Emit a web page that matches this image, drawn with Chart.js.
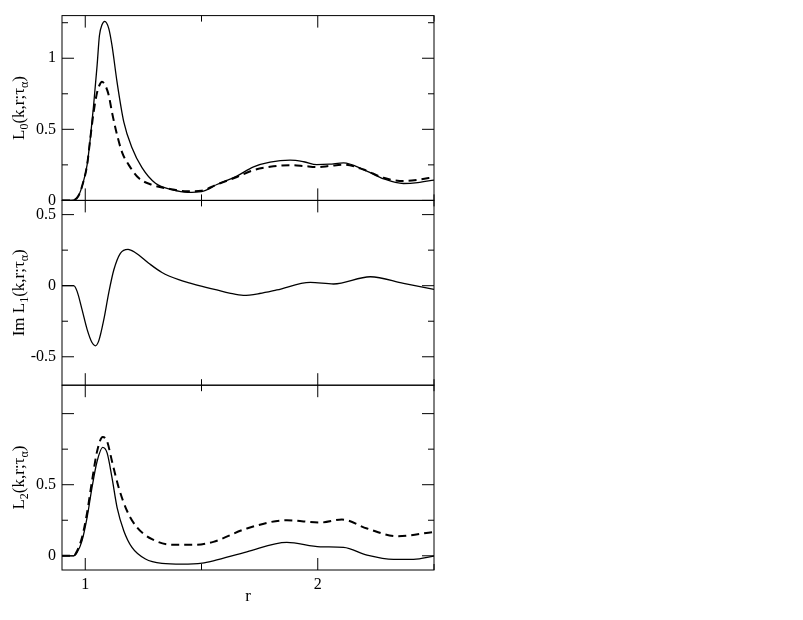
<!DOCTYPE html>
<html>
<head>
<meta charset="utf-8">
<script src="https://cdn.jsdelivr.net/npm/chart.js@4.4.1/dist/chart.umd.min.js"></script>
<style>
html,body{margin:0;padding:0;background:#fff;}
#wrap{position:relative;width:803px;height:620px;}
canvas{display:block;}
</style>
</head>
<body>
<div id="wrap"><canvas id="c" width="803" height="620"></canvas></div>
<script>
// ---------- data ----------
// Panel 1: L0(k,r;tau_alpha)
const rL0Solid = [0.90, 0.94, 0.97, 0.99, 1.008, 1.022, 1.036, 1.051, 1.061, 1.072, 1.084, 1.101, 1.115, 1.137, 1.166, 1.201, 1.244, 1.302, 1.374, 1.44, 1.50, 1.566, 1.652, 1.724, 1.795, 1.881, 1.94, 1.996, 2.05, 2.111, 2.197, 2.283, 2.369, 2.43, 2.50];
const L0Solid  = [0, 0, 0.03, 0.12, 0.25, 0.44, 0.67, 0.95, 1.16, 1.235, 1.26, 1.21, 1.09, 0.83, 0.55, 0.37, 0.23, 0.12, 0.075, 0.057, 0.062, 0.112, 0.171, 0.236, 0.269, 0.283, 0.272, 0.252, 0.255, 0.264, 0.217, 0.152, 0.119, 0.125, 0.143];
const rL0Dashed = [0.90, 0.94, 0.97, 0.99, 1.008, 1.022, 1.036, 1.051, 1.061, 1.072, 1.084, 1.101, 1.115, 1.137, 1.158, 1.187, 1.230, 1.287, 1.359, 1.44, 1.50, 1.566, 1.652, 1.724, 1.795, 1.881, 1.94, 1.996, 2.05, 2.111, 2.197, 2.283, 2.369, 2.43, 2.50];
const L0Dashed  = [0, 0, 0.03, 0.12, 0.25, 0.44, 0.62, 0.76, 0.81, 0.834, 0.815, 0.74, 0.62, 0.46, 0.34, 0.25, 0.157, 0.11, 0.082, 0.064, 0.068, 0.112, 0.165, 0.213, 0.236, 0.248, 0.242, 0.234, 0.242, 0.252, 0.217, 0.159, 0.136, 0.145, 0.164];

// Panel 2: Im L1(k,r;tau_alpha)
const rL1 = [0.90, 0.95, 0.965, 0.986, 1.008, 1.029, 1.043, 1.058, 1.080, 1.101, 1.123, 1.151, 1.184, 1.216, 1.273, 1.330, 1.402, 1.451, 1.503, 1.566, 1.62, 1.680, 1.75, 1.824, 1.968, 2.068, 2.226, 2.369, 2.50];
const L1Im = [0, 0, -0.04, -0.167, -0.307, -0.40, -0.423, -0.388, -0.237, -0.05, 0.112, 0.228, 0.256, 0.232, 0.158, 0.093, 0.042, 0.018, -0.005, -0.03, -0.052, -0.068, -0.055, -0.03, 0.023, 0.012, 0.063, 0.016, -0.026];

// Panel 3: L2(k,r;tau_alpha)
const rL2Solid = [0.90, 0.95, 0.965, 0.986, 1.008, 1.029, 1.051, 1.075, 1.094, 1.115, 1.137, 1.166, 1.201, 1.259, 1.330, 1.417, 1.503, 1.551, 1.695, 1.867, 2.011, 2.111, 2.212, 2.326, 2.412, 2.50];
const L2Solid  = [0, 0, 0.024, 0.105, 0.27, 0.48, 0.665, 0.763, 0.724, 0.55, 0.339, 0.175, 0.059, -0.023, -0.053, -0.058, -0.051, -0.035, 0.028, 0.094, 0.063, 0.059, 0.005, -0.025, -0.025, -0.002];
const rL2Dashed = [0.90, 0.95, 0.965, 0.986, 1.008, 1.029, 1.051, 1.075, 1.094, 1.115, 1.144, 1.180, 1.223, 1.287, 1.374, 1.474, 1.551, 1.695, 1.867, 2.011, 2.104, 2.212, 2.341, 2.50];
const L2Dashed  = [0, 0, 0.035, 0.129, 0.304, 0.525, 0.735, 0.836, 0.805, 0.665, 0.479, 0.315, 0.199, 0.117, 0.077, 0.077, 0.098, 0.192, 0.25, 0.234, 0.255, 0.192, 0.138, 0.168];

// ticks
const xTickLabels = [1, 2];
const xMinorTicks = [1.5, 2.5];
const y0TickLabels = [0, 0.5, 1];
const y0MinorTicks = [0.25, 0.75, 1.25];
const y1TickLabels = [-0.5, 0, 0.5];
const y1MinorTicks = [-0.25, 0.25];
const y2TickLabels = [0, 0.5];
const y2MajorExtra = [1];
const y2MinorTicks = [0.25, 0.75];

const xTitle = 'r';
const yTitles = {
  y0: [{t:'L'},{t:'0',sub:true},{t:'(k,r;τ'},{t:'α',sub:true},{t:')'}],
  y1: [{t:'Im L'},{t:'1',sub:true},{t:'(k,r;τ'},{t:'α',sub:true},{t:')'}],
  y2: [{t:'L'},{t:'2',sub:true},{t:'(k,r;τ'},{t:'α',sub:true},{t:')'}]
};

// ---------- chart ----------
const FAM = "'Liberation Serif', 'Times New Roman', serif";
const pts = (xs, ys) => xs.map((x, i) => ({x: x, y: ys[i]}));

function yScale(min, max, labels, weight) {
  return {
    type: 'linear', position: 'left', stack: 'panels', stackWeight: 1, weight: weight,
    min: min, max: max,
    grid: {display: false, drawTicks: false}, border: {display: false},
    afterBuildTicks: s => { s.ticks = labels.map(v => ({value: v})); },
    afterFit: s => { s.width = 62; },
    ticks: {padding: 6, color: '#000', font: {family: FAM, size: 16}, autoSkip: false,
            callback: v => String(v)}
  };
}

const framePlugin = {
  id: 'frames',
  afterDraw(chart) {
    const ctx = chart.ctx, ca = chart.chartArea, xs = chart.scales.x;
    const tickSets = {
      y0: {major: y0TickLabels, minor: y0MinorTicks},
      y1: {major: y1TickLabels, minor: y1MinorTicks},
      y2: {major: y2TickLabels.concat(y2MajorExtra), minor: y2MinorTicks}
    };
    ctx.save();
    ctx.strokeStyle = '#000';
    ctx.lineWidth = 1;
    const line = (a, b, c, d) => { ctx.beginPath(); ctx.moveTo(a, b); ctx.lineTo(c, d); ctx.stroke(); };
    for (const id of ['y0', 'y1', 'y2']) {
      const s = chart.scales[id];
      const top = s.top, bot = s.bottom;
      ctx.strokeRect(ca.left, top, ca.right - ca.left, bot - top);
      xTickLabels.forEach(v => { const p = xs.getPixelForValue(v); line(p, top, p, top + 12); line(p, bot, p, bot - 12); });
      xMinorTicks.forEach(v => { const p = xs.getPixelForValue(v); line(p, top, p, top + 6); line(p, bot, p, bot - 6); });
      tickSets[id].major.forEach(v => { const p = s.getPixelForValue(v); line(ca.left, p, ca.left + 12, p); line(ca.right, p, ca.right - 12, p); });
      tickSets[id].minor.forEach(v => { const p = s.getPixelForValue(v); line(ca.left, p, ca.left + 6, p); line(ca.right, p, ca.right - 6, p); });
      // rotated title with subscripts
      drawRich(ctx, yTitles[id], 24, (top + bot) / 2, 17);
    }
    ctx.restore();
  }
};

function drawRich(ctx, parts, cx, cy, size) {
  ctx.save();
  ctx.translate(cx, cy);
  ctx.rotate(-Math.PI / 2);
  ctx.fillStyle = '#000';
  ctx.textBaseline = 'alphabetic';
  ctx.textAlign = 'left';
  const subSize = Math.round(size * 0.7);
  let total = 0;
  const widths = parts.map(p => {
    ctx.font = (p.sub ? subSize : size) + 'px ' + FAM;
    const w = ctx.measureText(p.t).width;
    total += w;
    return w;
  });
  let x = -total / 2;
  parts.forEach((p, i) => {
    ctx.font = (p.sub ? subSize : size) + 'px ' + FAM;
    ctx.fillText(p.t, x, p.sub ? size * 0.25 : 0);
    x += widths[i];
  });
  ctx.restore();
}

const solid = {borderColor: '#000', borderWidth: 1.3, pointRadius: 0, fill: false, cubicInterpolationMode: 'monotone'};
const dashed = {borderColor: '#000', borderWidth: 2, borderDash: [8, 5], pointRadius: 0, fill: false, cubicInterpolationMode: 'monotone'};

new Chart(document.getElementById('c'), {
  type: 'line',
  data: {
    datasets: [
      Object.assign({label: 'L0 solid', data: pts(rL0Solid, L0Solid), xAxisID: 'x', yAxisID: 'y0'}, solid),
      Object.assign({label: 'L0 dashed', data: pts(rL0Dashed, L0Dashed), xAxisID: 'x', yAxisID: 'y0'}, dashed),
      Object.assign({label: 'Im L1', data: pts(rL1, L1Im), xAxisID: 'x', yAxisID: 'y1'}, solid),
      Object.assign({label: 'L2 solid', data: pts(rL2Solid, L2Solid), xAxisID: 'x', yAxisID: 'y2'}, solid),
      Object.assign({label: 'L2 dashed', data: pts(rL2Dashed, L2Dashed), xAxisID: 'x', yAxisID: 'y2'}, dashed)
    ]
  },
  options: {
    responsive: false,
    devicePixelRatio: 1,
    animation: false,
    events: [],
    layout: {padding: {left: 0, right: 369, top: 12.3, bottom: 0}},
    plugins: {legend: {display: false}, tooltip: {enabled: false}, title: {display: false}},
    scales: {
      x: {
        type: 'linear', position: 'bottom', min: 0.9, max: 2.5,
        grid: {display: false, drawTicks: false}, border: {display: false},
        afterBuildTicks: s => { s.ticks = xTickLabels.map(v => ({value: v})); },
        afterFit: s => { s.height = 50; },
        ticks: {padding: 5, color: '#000', font: {family: FAM, size: 16}, autoSkip: false, maxRotation: 0,
                callback: v => String(v)},
        title: {display: true, text: xTitle, color: '#000', font: {family: FAM, size: 17}, padding: {top: 0, bottom: 13}}
      },
      y0: yScale(0, 1.3, y0TickLabels, 3),
      y1: yScale(-0.7, 0.6, y1TickLabels, 2),
      y2: yScale(-0.1, 1.2, y2TickLabels, 1)
    }
  },
  plugins: [framePlugin]
});
</script>
</body>
</html>
